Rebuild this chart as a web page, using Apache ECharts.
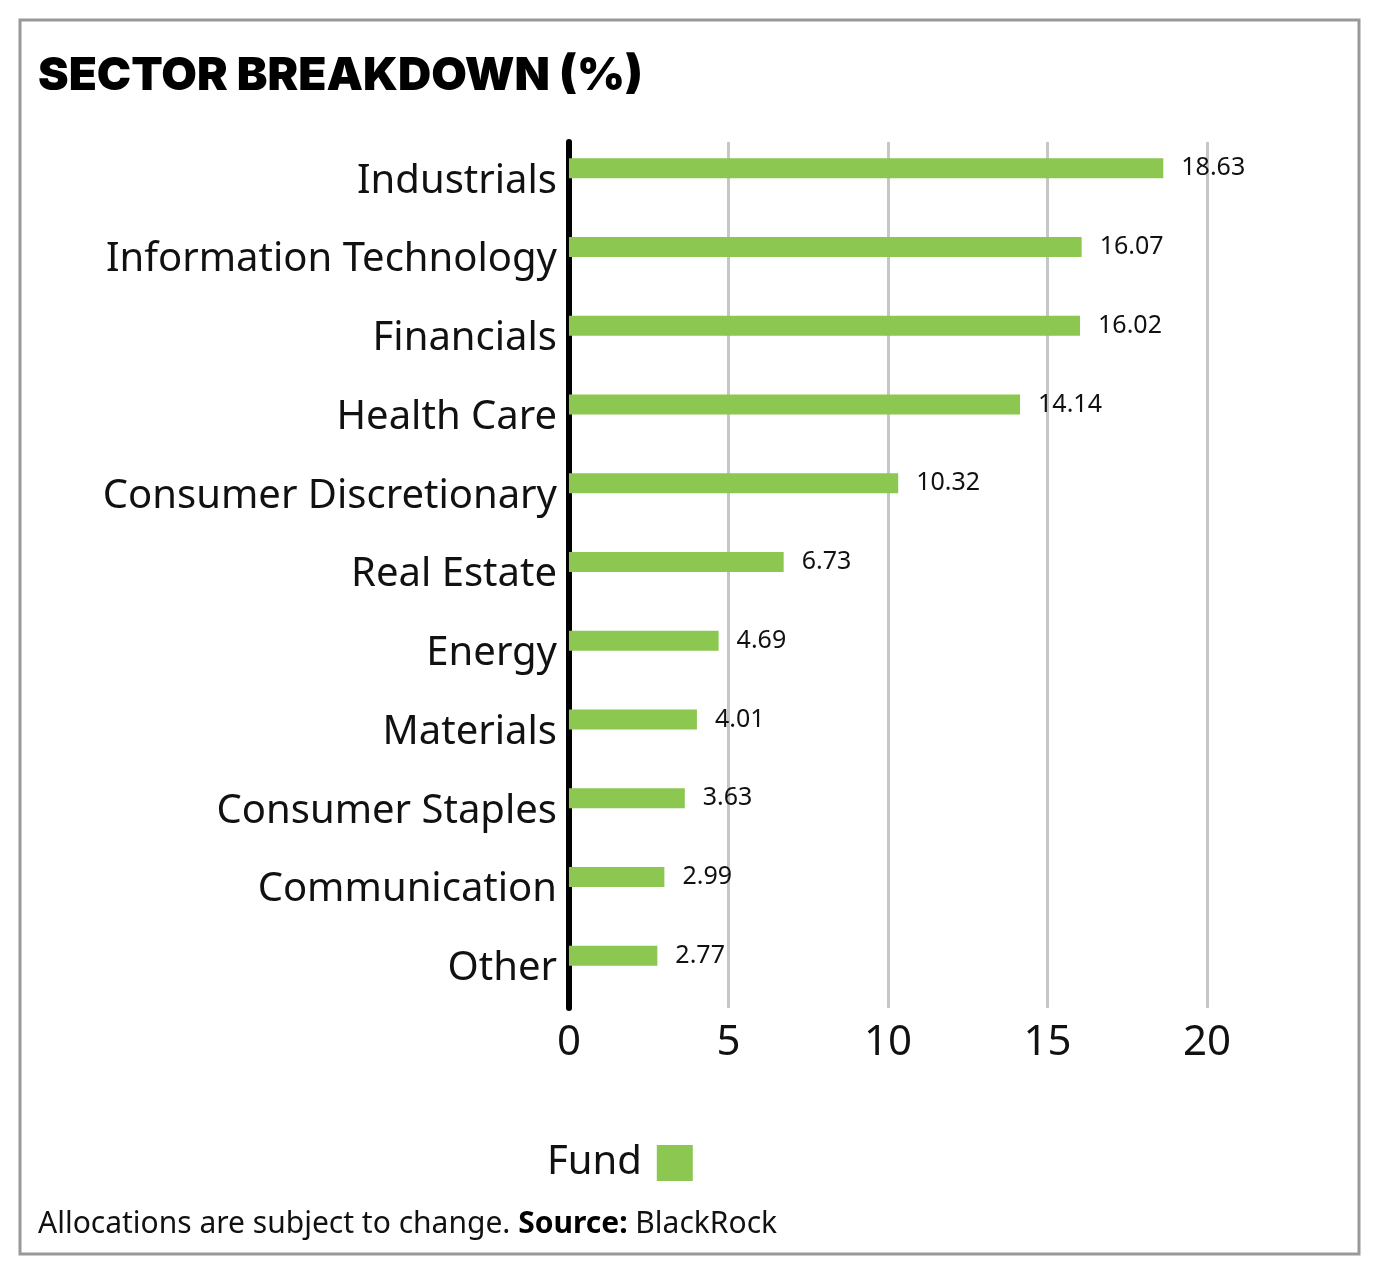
<!DOCTYPE html>
<html>
<head>
<meta charset="utf-8">
<script src="https://cdn.jsdelivr.net/npm/echarts@6/dist/echarts.min.js"></script>
<style>
  html, body { margin: 0; padding: 0; background: #fff; }
  #chart { width: 1384px; height: 1282px; }
</style>
</head>
<body>
<div id="chart"></div>
<script>
// sector names, top to bottom as shown
const sectors = [
  'Industrials', 'Information Technology', 'Financials', 'Health Care',
  'Consumer Discretionary', 'Real Estate', 'Energy', 'Materials',
  'Consumer Staples', 'Communication', 'Other'
];
const fundWeights = [18.63, 16.07, 16.02, 14.14, 10.32, 6.73, 4.69, 4.01, 3.63, 2.99, 2.77];
const xTicks = [0, 5, 10, 15, 20];

const chart = echarts.init(document.getElementById('chart'));
const font = '"Noto Sans", sans-serif';

chart.setOption({
  animation: false,
  backgroundColor: '#fff',
  title: {
    text: 'SECTOR BREAKDOWN (%)',
    left: 33, top: 48,
    textStyle: { fontFamily: 'Inter', fontWeight: 900, fontSize: 46, color: '#000' }
  },
  legend: {
    data: [{ name: 'Fund', icon: 'rect' }],
    left: 542, top: 1138,
    align: 'right',
    itemWidth: 36, itemHeight: 36,
    itemGap: 10,
    textStyle: { fontFamily: font, fontSize: 40, color: '#111', padding: [0, 10, 0, 0] }
  },
  grid: { left: 569, right: 177, top: 142, bottom: 274 },
  xAxis: {
    type: 'value',
    min: xTicks[0], max: xTicks[xTicks.length - 1], interval: 5,
    axisLine: { show: false },
    axisTick: { show: false },
    axisLabel: { fontFamily: font, fontSize: 42, color: '#111', margin: 14 },
    splitLine: { lineStyle: { color: '#c6c6c6', width: 3 } }
  },
  yAxis: {
    type: 'category',
    data: sectors,
    inverse: true,
    axisLine: { show: true, lineStyle: { color: '#000', width: 6 } },
    axisTick: { show: false },
    axisLabel: { fontFamily: font, fontSize: 40, color: '#111', margin: 12 }
  },
  series: [
    {
      name: 'Fund',
      type: 'bar',
      data: fundWeights,
      barWidth: 20,
      barGap: '30%',
      itemStyle: { color: '#8bc751' },
      label: {
        show: true, position: 'right', distance: 18,
        fontFamily: font, fontSize: 25, color: '#111',
        formatter: p => p.value.toFixed(2)
      }
    },
    {
      name: 'spacer',
      type: 'bar',
      data: sectors.map(() => null),
      barWidth: 20,
      silent: true
    }
  ],
  graphic: [
    {
      type: 'rect',
      shape: { x: 20, y: 20, width: 1339, height: 1234 },
      style: { fill: null, stroke: '#999', lineWidth: 3 }
    },
    {
      type: 'text',
      left: 38, top: 1209,
      style: {
        text: 'Allocations are subject to change. {b|Source:} BlackRock',
        font: '30px "Noto Sans", sans-serif',
        fill: '#111',
        rich: {
          b: { fontFamily: 'Noto Sans', fontSize: 30, fontWeight: 'bold', fill: '#000' }
        }
      }
    }
  ]
});
</script>
</body>
</html>
